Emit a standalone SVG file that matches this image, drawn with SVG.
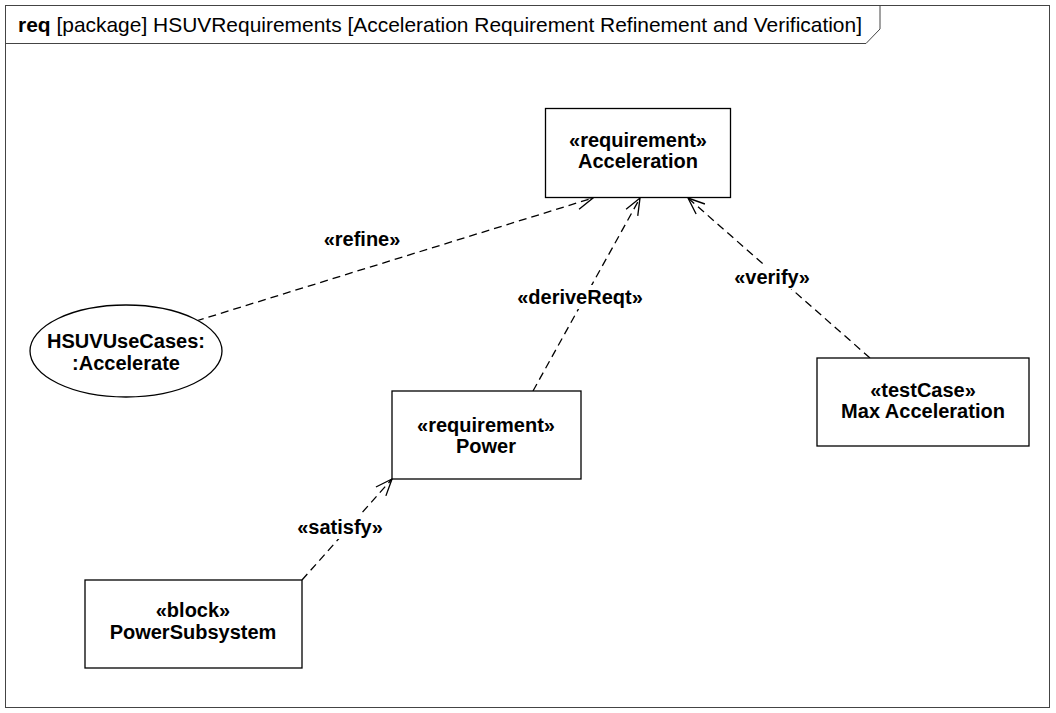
<svg xmlns="http://www.w3.org/2000/svg" width="1056" height="713" viewBox="0 0 1056 713">
<defs>
<style>
.node{fill:#fff;stroke:#000;stroke-width:1.3}
.t{font-family:"Liberation Sans",Arial,sans-serif;font-weight:bold;font-size:20px;text-anchor:middle;fill:#000}
.c{fill:none;stroke:#000;stroke-width:1.3;stroke-dasharray:8,5}
.bg{fill:#fff;stroke:none}
.title{font-family:"Liberation Sans",Arial,sans-serif;font-size:21px;fill:#000}
</style>
<marker id="open" markerUnits="userSpaceOnUse" markerWidth="20" markerHeight="20" viewBox="-16 -8 18 16" refX="0" refY="0" orient="auto">
<path d="M -15 -6 L 0 0 L -15 6" fill="none" stroke="#000" stroke-width="1.2"/>
</marker>
</defs>
<rect width="1056" height="713" fill="#fff"/>
<g id="frame">
<rect x="5.5" y="5.5" width="1044" height="702" fill="none" stroke="#444" stroke-width="1"/>
<path d="M 5.5 43.5 L 866 43.5 L 880 29 L 880 5.5" fill="none" stroke="#444" stroke-width="1"/>
<text class="title" x="18" y="32" textLength="844" lengthAdjust="spacingAndGlyphs"><tspan font-weight="bold">req</tspan> [package] HSUVRequirements [Acceleration Requirement Refinement and Verification]</text>
</g>
<g id="connectors">
<line class="c" x1="196" y1="321" x2="593" y2="198" marker-end="url(#open)"/>
<line class="c" x1="533" y1="391" x2="640" y2="198" marker-end="url(#open)"/>
<line class="c" x1="870" y1="358" x2="688" y2="198" marker-end="url(#open)"/>
<line class="c" x1="302" y1="580" x2="392" y2="479" marker-end="url(#open)"/>
<rect class="bg" x="521" y="285" width="118" height="24"/>
<rect class="bg" x="735" y="265" width="74" height="24"/>
<rect class="bg" x="297" y="515" width="86" height="24"/>
<text class="t" x="362" y="246">«refine»</text>
<text class="t" x="580" y="304">«deriveReqt»</text>
<text class="t" x="772" y="284">«verify»</text>
<text class="t" x="340" y="534">«satisfy»</text>
</g>
<g id="acceleration">
<rect class="node" x="545.5" y="108.5" width="185" height="89"/>
<text class="t" x="638" y="147">«requirement»</text>
<text class="t" x="638" y="168">Acceleration</text>
</g>
<g id="usecase">
<ellipse class="node" cx="126" cy="351" rx="96" ry="46"/>
<text class="t" x="126" y="348">HSUVUseCases:</text>
<text class="t" x="126" y="370">:Accelerate</text>
</g>
<g id="power">
<rect class="node" x="392" y="391" width="189" height="88"/>
<text class="t" x="486" y="432">«requirement»</text>
<text class="t" x="486" y="453">Power</text>
</g>
<g id="testcase">
<rect class="node" x="817" y="358" width="212" height="88"/>
<text class="t" x="923" y="397">«testCase»</text>
<text class="t" x="923" y="418">Max Acceleration</text>
</g>
<g id="powersubsystem">
<rect class="node" x="85" y="580" width="217" height="88"/>
<text class="t" x="193" y="617">«block»</text>
<text class="t" x="193" y="639">PowerSubsystem</text>
</g>
</svg>
